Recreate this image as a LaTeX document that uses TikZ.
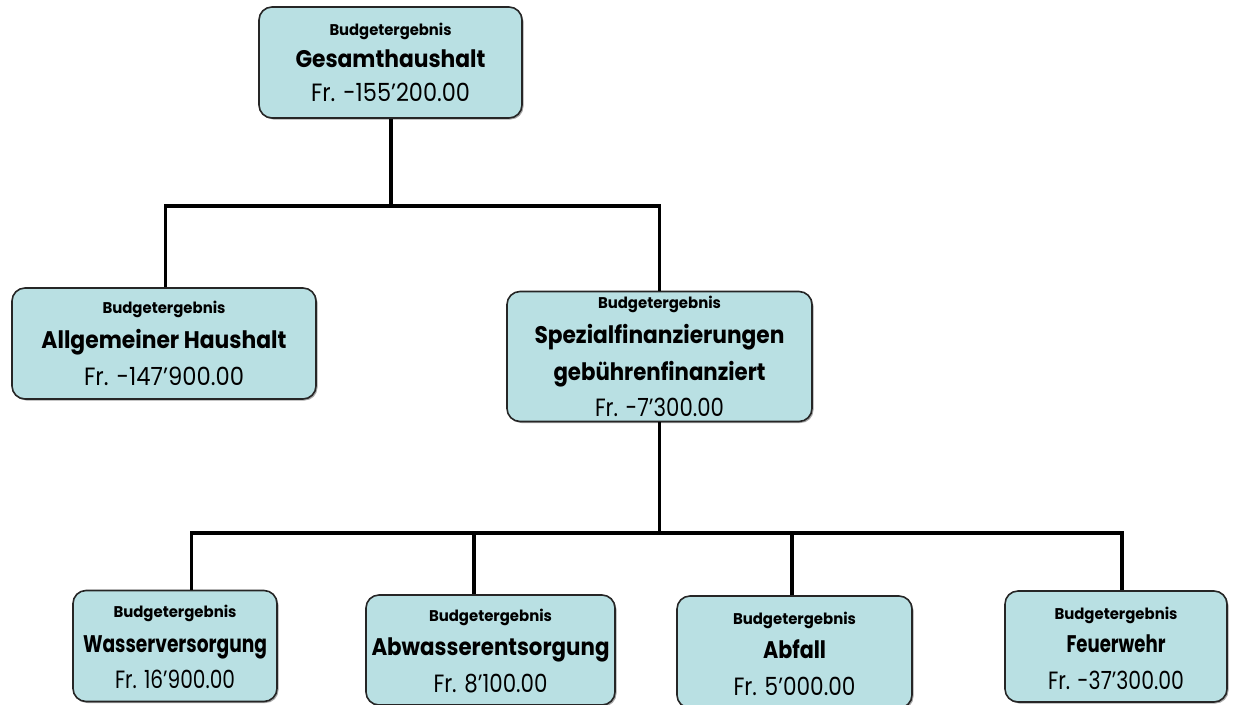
\documentclass[tikz,border=0pt]{standalone}
\usepackage{fontspec}
\usepackage{graphicx}
\setmainfont{Poppins}
\usetikzlibrary{shadows}
\definecolor{boxfill}{HTML}{B9E0E3}
\newsavebox\fitbox
\newcommand\fitw[2]{\sbox\fitbox{#2}\pgfmathsetmacro\fitfac{#1/\the\wd\fitbox}\scalebox{\fitfac}[1]{\usebox\fitbox}}
\begin{document}
\begin{tikzpicture}[x=1pt,y=-1pt,
  box/.style={draw=black!85, line width=1.6pt, rounded corners=13pt, fill=boxfill, inner sep=0pt,
    drop shadow={shadow xshift=1.5pt, shadow yshift=-1.5pt, opacity=0.35, fill=black}},
  conn/.style={line width=3.8pt, black},
  small/.style={anchor=base, inner sep=0pt, font=\fontsize{15.5}{17}\selectfont\bfseries},
  title/.style={anchor=base, inner sep=0pt, font=\fontsize{24}{28}\selectfont\bfseries},
  amount/.style={anchor=base, inner sep=0pt, font=\fontsize{25}{28}\selectfont}]
\useasboundingbox (0,0) rectangle (1238,704);

% boxes
\node[box, minimum width=263, minimum height=111] (top) at (390.5,62.5) {};
\node[box, minimum width=304, minimum height=111] (allg) at (164,343.5) {};
\node[box, minimum width=305, minimum height=130] (spez) at (659.5,356.5) {};
\node[box, minimum width=204, minimum height=111] (wass) at (175,646) {};
\node[box, minimum width=249, minimum height=110] (abw) at (490.5,650) {};
\node[box, minimum width=235, minimum height=112] (abf) at (794.5,652) {};
\node[box, minimum width=222, minimum height=111] (feu) at (1116,646.5) {};

% connectors
\coordinate (j1) at (391,206);
\coordinate (j2) at (659.5,533);
\coordinate (cw) at (191.5,533);
\coordinate (ca) at (474,533);
\coordinate (cb) at (792,533);
\coordinate (cf) at (1122,533);
\draw[conn] (top.south -| j1) -- (j1);
\draw[conn] (allg.north -| 165.5,0) |- (j1) -| (spez.north);
\draw[conn] (spez.south) -- (j2);
\draw[conn, line cap=rect] (cw) -- (cf);
\draw[conn] (cw) -- (cw |- wass.north);
\draw[conn] (ca) -- (ca |- abw.north);
\draw[conn] (cb) -- (cb |- abf.north);
\draw[conn] (cf) -- (cf |- feu.north);

% texts
\node[small] (t1) at (390.5,35) {\fitw{122}{Budgetergebnis}};
\node[title] (t2) at (390.5,67) {\fitw{190}{Gesamthaushalt}};
\node[amount] (t3) at (390.5,101) {\fitw{159}{Fr. -155'200.00}};

\node[small] (a1) at (164,313) {\fitw{123}{Budgetergebnis}};
\node[title] (a2) at (164,348) {\fitw{245}{Allgemeiner Haushalt}};
\node[amount] (a3) at (164,385) {\fitw{160}{Fr. -147'900.00}};

\node[small] (s1) at (659.5,308) {\fitw{123}{Budgetergebnis}};
\node[title] (s2) at (659.5,343) {\fitw{250}{Spezialfinanzierungen}};
\node[title] (s3) at (659.5,380) {\fitw{212}{gebührenfinanziert}};
\node[amount] (s4) at (659.5,416) {\fitw{129}{Fr. -7'300.00}};

\node[small] (w1) at (175,617) {\fitw{123}{Budgetergebnis}};
\node[title] (w2) at (175,652) {\fitw{184}{Wasserversorgung}};
\node[amount] (w3) at (175,688) {\fitw{120}{Fr. 16'900.00}};

\node[small] (b1) at (490.5,621) {\fitw{123}{Budgetergebnis}};
\node[title] (b2) at (490.5,655) {\fitw{238}{Abwasserentsorgung}};
\node[amount] (b3) at (490.5,692) {\fitw{114}{Fr. 8'100.00}};

\node[small] (c1) at (794.5,624) {\fitw{123}{Budgetergebnis}};
\node[title] (c2) at (794.5,658) {\fitw{63}{Abfall}};
\node[amount] (c3) at (794.5,695) {\fitw{122}{Fr. 5'000.00}};

\node[small] (f1) at (1116,619) {\fitw{123}{Budgetergebnis}};
\node[title] (f2) at (1116,652) {\fitw{99}{Feuerwehr}};
\node[amount] (f3) at (1116,689) {\fitw{136}{Fr. -37'300.00}};
\end{tikzpicture}
\end{document}
